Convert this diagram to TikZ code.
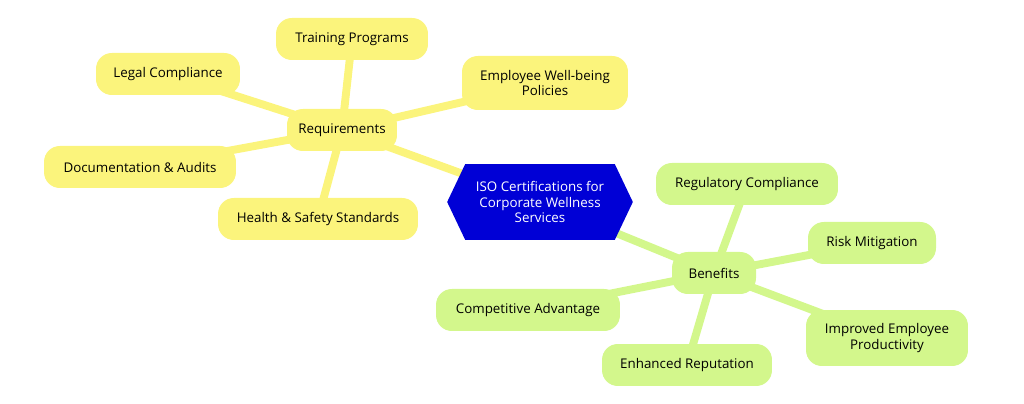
\documentclass[tikz,border=0pt]{standalone}
\usepackage{fontspec}
\setmainfont{Open Sans}
\usetikzlibrary{calc,backgrounds}
\definecolor{reqyellow}{HTML}{FBF47C}
\definecolor{benegreen}{HTML}{D3F78C}
\definecolor{hexblue}{HTML}{0000D6}
\tikzset{
  req/.style={fill=reqyellow,rounded corners=9pt,align=center,inner sep=4pt,minimum height=0.84cm,font=\fontsize{7.6}{9}\selectfont},
  bene/.style={req,fill=benegreen},
  reqline/.style={reqyellow,line width=4.5pt},
  beneline/.style={benegreen,line width=4.5pt}
}
\begin{document}
\begin{tikzpicture}[x=0.02cm,y=-0.02cm]
  \useasboundingbox (0,0) rectangle (1024,404);

  % centre
  \node (iso) [text=white,align=center,minimum width=3.7cm,minimum height=1.5cm,font=\fontsize{7.6}{9}\selectfont] at (540,202) {ISO Certifications for\\Corporate Wellness\\Services};

  % requirements
  \node (req) [req,minimum width=2.2cm] at (342,130) {Requirements};
  \node (train) [req,minimum width=3.04cm] at (352,39) {Training Programs};
  \node (legal) [req,minimum width=2.88cm] at (168,74) {Legal Compliance};
  \node (well) [req,minimum width=3.32cm,minimum height=1.08cm] at (545,83) {Employee Well-being\\Policies};
  \node (docs) [req,minimum width=3.84cm] at (140,167) {Documentation \& Audits};
  \node (health) [req,minimum width=4cm] at (318,219) {Health \& Safety Standards};

  % benefits
  \node (bene) [bene,minimum width=1.68cm] at (714,273) {Benefits};
  \node (regu) [bene,minimum width=3.64cm] at (747,184) {Regulatory Compliance};
  \node (risk) [bene,minimum width=2.56cm] at (872,243) {Risk Mitigation};
  \node (prod) [bene,minimum width=3.24cm,minimum height=1.12cm] at (887,338) {Improved Employee\\Productivity};
  \node (comp) [bene,minimum width=3.68cm] at (528,310) {Competitive Advantage};
  \node (repu) [bene,minimum width=3.4cm] at (687,365) {Enhanced Reputation};

  \begin{scope}[on background layer]
    \foreach \leaf in {train,legal,well,docs,health,iso}
      \draw[reqline] (req.center) -- (\leaf.center);
    \foreach \leaf in {regu,risk,prod,comp,repu,iso}
      \draw[beneline] (bene.center) -- (\leaf.center);
  \end{scope}
  \begin{scope}[on background layer]
    \fill[hexblue] (iso.west) -- ($(iso.north west)+(18,0)$) -- ($(iso.north east)+(-18,0)$)
      -- (iso.east) -- ($(iso.south east)+(-18,0)$) -- ($(iso.south west)+(18,0)$) -- cycle;
  \end{scope}
\end{tikzpicture}
\end{document}
